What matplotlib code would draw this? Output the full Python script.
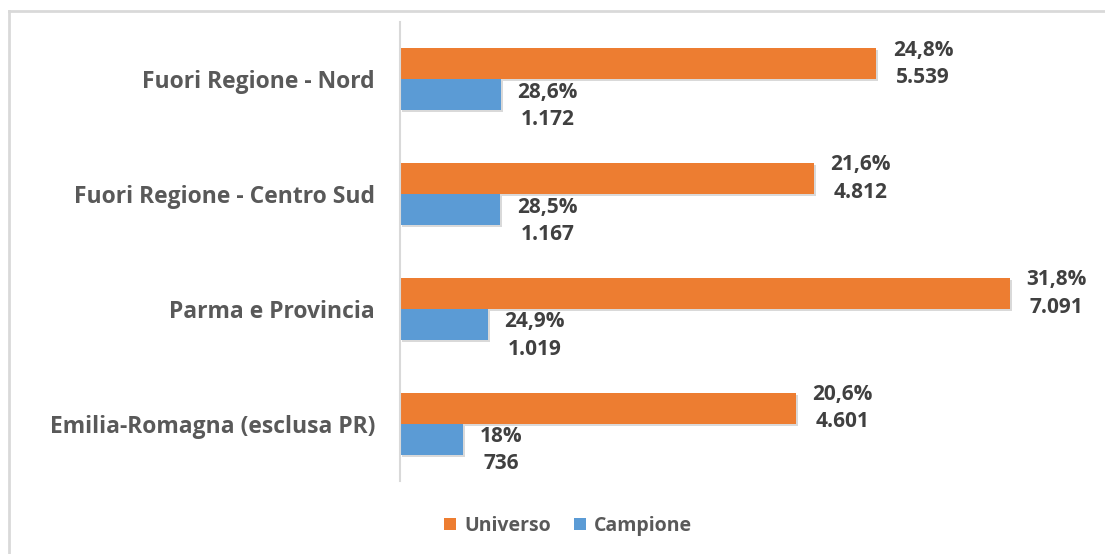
import numpy as np
import matplotlib
matplotlib.use("Agg")
import matplotlib.pyplot as plt
import matplotlib.patheffects as pe
from matplotlib.lines import Line2D

# data (top to bottom as shown)
categories = ["Fuori Regione - Nord", "Fuori Regione - Centro Sud",
              "Parma e Provincia", "Emilia-Romagna (esclusa PR)"]
universo = [5539, 4812, 7091, 4601]
campione = [1172, 1167, 1019, 736]
universo_pct = ["24,8%", "21,6%", "31,8%", "20,6%"]
campione_pct = ["28,6%", "28,5%", "24,9%", "18%"]

ORANGE = "#ED7D31"
BLUE = "#5B9BD5"
TXT = "#404040"
GRID = "#D9D9D9"

plt.rcParams['font.family'] = ['Open Sans', 'DejaVu Sans']

fig = plt.figure(figsize=(11.05, 5.54), dpi=100)
ax = fig.add_axes([400 / 1105, 73 / 554, 688 / 1105, 459 / 554])

def fmt_num(v):
    return f"{v:,}".replace(",", ".")

y = np.arange(len(categories))[::-1]
h = 0.27
shadow = [pe.SimplePatchShadow(offset=(1.5, -1.5), alpha=0.15, shadow_rgbFace="#000000"), pe.Normal()]

b1 = ax.barh(y + h / 2, universo, height=h, color=ORANGE, label="Universo")
b2 = ax.barh(y - h / 2, campione, height=h, color=BLUE, label="Campione")
for b in list(b1) + list(b2):
    b.set_path_effects(shadow)

for yi, v, p in zip(y, universo, universo_pct):
    ax.annotate(f"{p}\n{fmt_num(v)}", xy=(v, yi + h / 2), xytext=(12, 0),
                textcoords="offset points", ha="left", va="center",
                multialignment="center", fontsize=15, fontweight="bold",
                color=TXT, linespacing=1.4)
for yi, v, p in zip(y, campione, campione_pct):
    ax.annotate(f"{p}\n{fmt_num(v)}", xy=(v, yi - h / 2), xytext=(12, -8),
                textcoords="offset points", ha="left", va="center",
                multialignment="center", fontsize=15, fontweight="bold",
                color=TXT, linespacing=1.4)

ax.set_xlim(0, 8000)
ax.set_ylim(-0.5, 3.5)
ax.set_yticks(y)
ax.set_yticklabels(categories, fontsize=16.5, fontweight="bold", color="#595959")
ax.tick_params(axis="y", length=0, pad=18)
ax.set_xticks([])
for s in ["top", "right", "bottom"]:
    ax.spines[s].set_visible(False)
ax.spines["left"].set_color(GRID)
ax.spines["left"].set_linewidth(1.5)

leg = fig.legend(handles=[b1, b2], labels=["Universo", "Campione"], loc="center",
                 bbox_to_anchor=(568 / 1105, 1 - 526 / 554), ncol=2, frameon=False,
                 handlelength=0.6, handleheight=0.6, handletextpad=0.4,
                 columnspacing=1.2, prop={"weight": "bold", "size": 14})
for t in leg.get_texts():
    t.set_color("#595959")
for hnd in leg.legend_handles:
    hnd.set_path_effects([])

# outer frame (top and left edges visible)
fig.add_artist(Line2D([9 / 1105, 1], [1 - 11 / 554, 1 - 11 / 554],
                      transform=fig.transFigure, color=GRID, lw=2))
fig.add_artist(Line2D([9 / 1105, 9 / 1105], [0, 1 - 11 / 554],
                      transform=fig.transFigure, color=GRID, lw=2))

fig.savefig("out.png", dpi=100, facecolor="white")
